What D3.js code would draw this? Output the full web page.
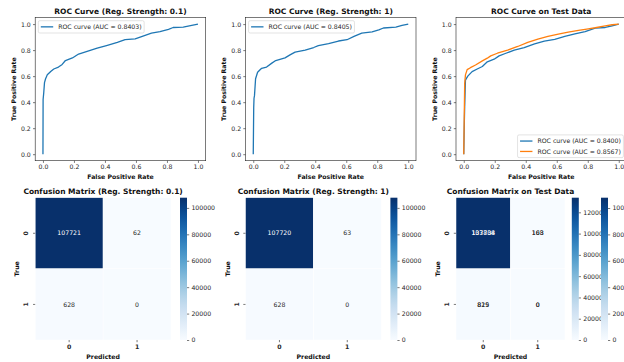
<!DOCTYPE html>
<html><head><meta charset="utf-8">
<script src="https://cdn.jsdelivr.net/npm/d3@7"></script>
<style>body{margin:0;background:#fff}svg{display:block;font-family:"DejaVu Sans",sans-serif}</style>
</head><body>
<script>
// ---------- data ----------
const rocTicks = [0, 0.2, 0.4, 0.6, 0.8, 1.0];

const fpr1 = [0, 0.001, 0.005, 0.01, 0.017, 0.028, 0.05, 0.07, 0.10, 0.124, 0.145, 0.19, 0.23, 0.285, 0.35, 0.41, 0.48, 0.53, 0.595, 0.65, 0.70, 0.755, 0.81, 0.84, 0.905, 0.96, 1.0];
const tpr1 = [0, 0.42, 0.47, 0.55, 0.58, 0.61, 0.635, 0.655, 0.67, 0.69, 0.72, 0.74, 0.77, 0.79, 0.815, 0.835, 0.86, 0.88, 0.887, 0.91, 0.93, 0.943, 0.96, 0.974, 0.977, 0.99, 1.0];

const fpr2 = [0, 0.003, 0.005, 0.008, 0.015, 0.028, 0.054, 0.086, 0.12, 0.145, 0.205, 0.24, 0.27, 0.335, 0.39, 0.42, 0.486, 0.55, 0.605, 0.65, 0.70, 0.767, 0.81, 0.84, 0.92, 0.96, 1.0];
const tpr2 = [0, 0.36, 0.43, 0.45, 0.58, 0.63, 0.66, 0.67, 0.70, 0.72, 0.74, 0.765, 0.785, 0.80, 0.82, 0.835, 0.85, 0.87, 0.88, 0.905, 0.93, 0.94, 0.955, 0.97, 0.977, 0.99, 1.0];

const fprTestA = [0, 0.004, 0.006, 0.011, 0.026, 0.054, 0.087, 0.12, 0.152, 0.196, 0.228, 0.272, 0.326, 0.39, 0.457, 0.52, 0.587, 0.652, 0.717, 0.783, 0.848, 0.913, 0.957, 1.0];
const tprTestA = [0, 0.26, 0.365, 0.57, 0.60, 0.635, 0.655, 0.674, 0.71, 0.73, 0.756, 0.776, 0.80, 0.82, 0.848, 0.869, 0.882, 0.905, 0.925, 0.943, 0.969, 0.974, 0.987, 1.0];

const fprTestB = [0, 0.004, 0.006, 0.011, 0.022, 0.043, 0.076, 0.12, 0.152, 0.174, 0.217, 0.283, 0.348, 0.413, 0.478, 0.543, 0.61, 0.674, 0.74, 0.804, 0.848, 0.913, 0.957, 1.0];
const tprTestB = [0, 0.365, 0.545, 0.61, 0.65, 0.665, 0.686, 0.717, 0.738, 0.756, 0.776, 0.80, 0.828, 0.859, 0.884, 0.905, 0.923, 0.938, 0.951, 0.964, 0.972, 0.987, 0.995, 1.0];

const legend1 = ["ROC curve (AUC = 0.8403)"];
const legend2 = ["ROC curve (AUC = 0.8405)"];
const legend3 = ["ROC curve (AUC = 0.8400)", "ROC curve (AUC = 0.8567)"];

const cmLabels = ["0", "1"];
const cm1 = [[107721, 62], [628, 0]];
const cm2 = [[107720, 63], [628, 0]];
const cmTestA = [[133734, 168], [829, 0]];
const cmTestB = [[107808, 103], [815, 0]];
const cbTicksA = [0, 20000, 40000, 60000, 80000, 100000, 120000];

// ---------- drawing ----------
const W = 624, H = 362;
const FS = 6.2, TFS = 7.5, TL = 2.2, TP = 2.2;
const TXT = "#262626";
const svg = d3.select("body").append("svg").attr("width", W).attr("height", H);
const defs = svg.append("defs");

function styleAxis(sel, bold) {
  sel.select(".domain").remove();
  sel.selectAll(".tick line").attr("stroke", "#222").attr("stroke-width", 0.6);
  sel.selectAll(".tick text").attr("font-size", FS).attr("fill", TXT)
     .attr("font-family", "DejaVu Sans").attr("font-weight", bold ? "bold" : "normal");
}

function rocPanel(box, title, series, labels, loc) {
  const x = d3.scaleLinear().domain([-0.05, 1.05]).range([box.l, box.r]);
  const y = d3.scaleLinear().domain([-0.05, 1.05]).range([box.b, box.t]);
  const g = svg.append("g");
  const xa = g.append("g").attr("transform", `translate(0,${box.b})`)
    .call(d3.axisBottom(x).tickValues(rocTicks).tickFormat(d3.format(".1f")).tickSize(TL).tickPadding(TP));
  styleAxis(xa);
  const ya = g.append("g").attr("transform", `translate(${box.l},0)`)
    .call(d3.axisLeft(y).tickValues(rocTicks).tickFormat(d3.format(".1f")).tickSize(TL).tickPadding(TP));
  styleAxis(ya);
  const line = d3.line().x(d => x(d[0])).y(d => y(d[1]));
  series.forEach(s => {
    const pts = s.f.map((v, i) => [v, s.t[i]]);
    g.append("path").attr("d", line(pts)).attr("fill", "none")
      .attr("stroke", s.c).attr("stroke-width", 1.3).attr("stroke-linejoin", "round");
  });
  g.append("rect").attr("x", box.l).attr("y", box.t).attr("width", box.r - box.l).attr("height", box.b - box.t)
    .attr("fill", "none").attr("stroke", "#222").attr("stroke-width", 0.6);
  g.append("text").attr("x", (box.l + box.r) / 2).attr("y", box.t - 3.8).attr("text-anchor", "middle")
    .attr("font-size", TFS).attr("font-weight", "bold").attr("fill", "#111").text(title);
  g.append("text").attr("x", (box.l + box.r) / 2).attr("y", 178.6).attr("text-anchor", "middle")
    .attr("font-size", FS).attr("font-weight", "bold").attr("fill", "#111").text("False Positive Rate");
  g.append("text").attr("transform", `translate(${box.l - 19.5},${(box.t + box.b) / 2}) rotate(-90)`)
    .attr("text-anchor", "middle").attr("font-size", FS).attr("font-weight", "bold").attr("fill", "#111")
    .text("True Positive Rate");
  // legend
  const rowH = 7.3, pad = 2.5, sp = 3.1;
  const tmp = g.append("text").attr("font-size", FS).text(labels[0]);
  const tw = tmp.node().getComputedTextLength(); tmp.remove();
  const lw = pad * 2 + 12.4 + 5 + tw;
  const lh = pad * 2 + rowH * labels.length + sp * (labels.length - 1);
  let lx, ly;
  if (loc === "ul") { lx = box.l + 3.1; ly = box.t + 3.1; }
  else { lx = box.r - 3.1 - lw; ly = box.b - 3.1 - lh; }
  g.append("rect").attr("x", lx).attr("y", ly).attr("width", lw).attr("height", lh).attr("rx", 1.5)
    .attr("fill", "#fff").attr("fill-opacity", 0.8).attr("stroke", "#d0d0d0").attr("stroke-width", 0.6);
  labels.forEach((lab, i) => {
    const cy = ly + pad + rowH / 2 + i * (rowH + sp);
    g.append("line").attr("x1", lx + pad).attr("x2", lx + pad + 12.4).attr("y1", cy).attr("y2", cy)
      .attr("stroke", series[i].c).attr("stroke-width", 1.3);
    g.append("text").attr("x", lx + pad + 12.4 + 5).attr("y", cy).attr("dy", "0.35em")
      .attr("font-size", FS).attr("fill", TXT).text(lab);
  });
}

let gradId = 0;
function colorbar(x0, top, bottom, max, ticks) {
  const id = "bl" + (gradId++);
  const grad = defs.append("linearGradient").attr("id", id).attr("x1", 0).attr("y1", 1).attr("x2", 0).attr("y2", 0);
  d3.range(0, 1.0001, 0.05).forEach(t => grad.append("stop").attr("offset", t).attr("stop-color", d3.interpolateBlues(t)));
  svg.append("rect").attr("x", x0).attr("y", top).attr("width", 7).attr("height", bottom - top).attr("fill", `url(#${id})`);
  const s = d3.scaleLinear().domain([0, max]).range([bottom, top]);
  const a = svg.append("g").attr("transform", `translate(${x0 + 7},0)`)
    .call(d3.axisRight(s).tickValues(ticks.filter(t => t <= max)).tickFormat(d3.format("d")).tickSize(TL).tickPadding(TP));
  styleAxis(a);
}

function cmPanel(box, title, mats) {
  const xb = d3.scaleBand().domain(cmLabels).range([box.l, box.r]);
  const yb = d3.scaleBand().domain(cmLabels).range([box.t, box.b]);
  const g = svg.append("g");
  const cellLayer = g.append("g"), textLayer = g.append("g");
  mats.forEach(mt => {
    const max = d3.max(mt.m.flat());
    const col = d3.scaleSequential(d3.interpolateBlues).domain([0, max]);
    const cells = [];
    mt.m.forEach((row, i) => row.forEach((v, j) => cells.push({ i, j, v })));
    cellLayer.selectAll(null).data(cells).join("rect")
      .attr("x", d => xb(cmLabels[d.j])).attr("y", d => yb(cmLabels[d.i]))
      .attr("width", xb.bandwidth()).attr("height", yb.bandwidth())
      .attr("fill", d => col(d.v)).attr("stroke", "#fff").attr("stroke-width", 0.5);
    textLayer.selectAll(null).data(cells).join("text")
      .attr("x", d => xb(cmLabels[d.j]) + xb.bandwidth() / 2).attr("y", d => yb(cmLabels[d.i]) + yb.bandwidth() / 2)
      .attr("dy", "0.35em").attr("text-anchor", "middle").attr("font-size", FS)
      .attr("fill", d => (d.v / max > 0.5 ? "#fff" : TXT)).text(d => d.v);
    colorbar(mt.cb, box.t, box.b, max, cbTicksA);
  });
  const xa = g.append("g").attr("transform", `translate(0,${box.b})`)
    .call(d3.axisBottom(xb).tickSize(TL).tickPadding(TP));
  styleAxis(xa, true);
  cmLabels.forEach(l => {
    const cy = yb(l) + yb.bandwidth() / 2;
    g.append("line").attr("x1", box.l - TL).attr("x2", box.l).attr("y1", cy).attr("y2", cy)
      .attr("stroke", "#222").attr("stroke-width", 0.6);
    g.append("text").attr("transform", `translate(${box.l - 6.8},${cy}) rotate(-90)`)
      .attr("text-anchor", "middle").attr("font-size", FS).attr("font-weight", "bold").attr("fill", TXT).text(l);
  });
  g.append("text").attr("x", (box.l + box.r) / 2).attr("y", box.t - 4.2).attr("text-anchor", "middle")
    .attr("font-size", TFS).attr("font-weight", "bold").attr("fill", "#111").text(title);
  g.append("text").attr("x", (box.l + box.r) / 2).attr("y", 358.8).attr("text-anchor", "middle")
    .attr("font-size", FS).attr("font-weight", "bold").attr("fill", "#111").text("Predicted");
  g.append("text").attr("transform", `translate(${box.l - 16},${(box.t + box.b) / 2}) rotate(-90)`)
    .attr("text-anchor", "middle").attr("font-size", FS).attr("font-weight", "bold").attr("fill", "#111").text("True");
}

const BLUE = "#1f77b4", ORANGE = "#ff7f0e";
const rt = 17.6, rb = 160.7;
rocPanel({ l: 35.2, r: 205.7, t: rt, b: rb }, "ROC Curve (Reg. Strength: 0.1)", [{ f: fpr1, t: tpr1, c: BLUE }], legend1, "ul");
rocPanel({ l: 245.5, r: 416, t: rt, b: rb }, "ROC Curve (Reg. Strength: 1)", [{ f: fpr2, t: tpr2, c: BLUE }], legend2, "ul");
rocPanel({ l: 456, r: 626.5, t: rt, b: rb }, "ROC Curve on Test Data",
  [{ f: fprTestA, t: tprTestA, c: BLUE }, { f: fprTestB, t: tprTestB, c: ORANGE }], legend3, "lr");

const ct = 197.7, cbm = 340;
cmPanel({ l: 35.2, r: 171, t: ct, b: cbm }, "Confusion Matrix (Reg. Strength: 0.1)", [{ m: cm1, cb: 180 }]);
cmPanel({ l: 245.5, r: 381.2, t: ct, b: cbm }, "Confusion Matrix (Reg. Strength: 1)", [{ m: cm2, cb: 390.4 }]);
cmPanel({ l: 456, r: 565, t: ct, b: cbm }, "Confusion Matrix on Test Data",
  [{ m: cmTestA, cb: 571.8 }, { m: cmTestB, cb: 601 }]);
</script>
</body></html>
